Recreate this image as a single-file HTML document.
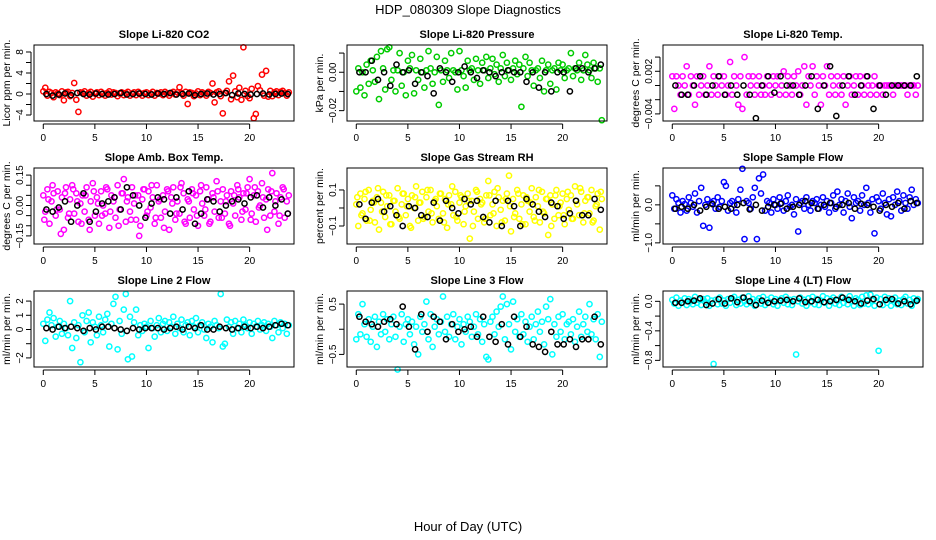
<!DOCTYPE html>
<html><head><meta charset="utf-8"><style>
html,body{margin:0;padding:0;background:#fff;}
svg{display:block;font-family:"Liberation Sans",sans-serif;}
</style></head><body>
<svg id="chart" width="936" height="540" xmlns="http://www.w3.org/2000/svg">
<rect x="0" y="0" width="936" height="540" fill="#fff"/>
<text x="468" y="14" text-anchor="middle" font-size="13">HDP_080309  Slope Diagnostics</text>
<text x="468" y="531" text-anchor="middle" font-size="13">Hour of Day (UTC)</text>
</svg>
<script>
const hours=[0,0.2,0.4,0.6,0.8,1,1.2,1.4,1.6,1.8,2,2.2,2.4,2.6,2.8,3,3.2,3.4,3.6,3.8,4,4.2,4.4,4.6,4.8,5,5.2,5.4,5.6,5.8,6,6.2,6.4,6.6,6.8,7,7.2,7.4,7.6,7.8,8,8.2,8.4,8.6,8.8,9,9.2,9.4,9.6,9.8,10,10.2,10.4,10.6,10.8,11,11.2,11.4,11.6,11.8,12,12.2,12.4,12.6,12.8,13,13.2,13.4,13.6,13.8,14,14.2,14.4,14.6,14.8,15,15.2,15.4,15.6,15.8,16,16.2,16.4,16.6,16.8,17,17.2,17.4,17.6,17.8,18,18.2,18.4,18.6,18.8,19,19.2,19.4,19.6,19.8,20,20.2,20.4,20.6,20.8,21,21.2,21.4,21.6,21.8,22,22.2,22.4,22.6,22.8,23,23.2,23.4,23.6,23.8];
const hoursK=[0.3,0.9,1.5,2.1,2.7,3.3,3.9,4.5,5.1,5.7,6.3,6.9,7.5,8.1,8.7,9.3,9.9,10.5,11.1,11.7,12.3,12.9,13.5,14.1,14.7,15.3,15.9,16.5,17.1,17.7,18.3,18.9,19.5,20.1,20.7,21.3,21.9,22.5,23.1,23.7];
const xTicks=[0,5,10,15,20];

const co2=[0.5,1.2,-0.3,0.4,0.2,-0.6,0.3,0.1,-0.2,0.5,-1.2,0.3,0.4,-0.4,0.2,2.1,-1.1,-3.4,0.3,0.2,0.5,-0.3,0.2,0.4,-0.5,0.1,0.3,-0.2,0.4,0.1,-0.3,0.2,0.5,-0.1,0.3,0.2,-0.4,0.1,0.3,-0.2,0.2,0.4,-0.3,0.1,0.3,-0.2,0.4,0.1,-0.3,0.2,0.3,-0.2,0.1,0.4,-0.3,0.2,0.1,0.3,-0.2,0.4,0.1,-0.3,0.2,0.4,-0.1,0.3,1.3,0.2,-0.3,0.4,-1.9,0.3,0.2,-0.4,0.1,0.5,-0.2,0.3,0.1,-0.3,0.4,0.2,2.0,-1.6,0.3,0.5,-0.4,-3.7,0.2,0.6,2.4,-1.0,3.5,0.5,-0.6,1.2,-1.1,8.9,0.6,-0.4,-0.8,1.0,-4.6,-3.8,1.5,0.7,3.7,-0.3,4.4,-0.5,0.6,-0.4,0.3,0.5,-0.2,0.4,0.6,0.2,-0.3,0.3];
const co2K=[0.0,-0.3,-0.1,0.1,-0.2,0.2,0.0,-0.1,0.1,0.0,-0.1,0.0,0.2,-0.1,0.0,0.1,0.0,-0.1,0.1,0.0,0.2,-0.1,0.0,0.1,-0.2,0.0,0.1,-0.1,0.0,0.2,-0.2,0.1,0.0,-0.1,0.0,0.1,-0.1,0.0,0.1,0.0];

const pres=[-0.010,0.002,-0.008,0.000,-0.012,0.004,-0.006,0.006,0.001,-0.005,0.008,-0.014,0.011,0.002,-0.009,0.012,0.013,-0.004,0.001,-0.010,0.001,0.010,-0.007,0.000,-0.012,0.006,0.002,0.009,-0.011,0.001,-0.004,0.007,0.000,-0.008,0.001,0.011,0.002,-0.006,0.000,0.008,-0.017,0.001,-0.005,0.006,0.001,-0.003,0.010,0.001,0.000,-0.009,0.011,0.001,-0.002,-0.008,0.006,0.001,0.002,-0.004,0.007,0.001,-0.006,0.005,0.001,0.008,-0.003,0.002,0.007,-0.001,0.004,-0.005,0.002,0.009,-0.002,0.005,0.001,-0.004,0.002,0.006,-0.001,0.004,-0.018,0.002,0.008,-0.002,0.005,0.001,-0.007,0.001,0.002,-0.003,0.006,-0.010,0.001,0.004,-0.006,0.001,0.002,-0.009,0.005,0.001,0.004,-0.003,0.001,0.002,0.010,-0.002,0.002,0.001,0.005,-0.004,0.001,0.009,0.004,0.001,-0.003,0.005,0.002,-0.005,0.002,-0.025];
const presK=[0.000,0.000,0.006,-0.004,0.000,-0.007,0.004,0.000,0.001,-0.006,0.000,-0.002,-0.011,0.002,0.000,-0.005,0.000,0.003,0.000,-0.003,0.001,0.000,-0.002,0.000,0.001,0.000,0.000,-0.005,0.000,-0.008,0.000,-0.010,0.000,0.000,-0.010,0.002,0.002,0.000,0.002,0.004];

const ltemp=[0.0013,-0.0033,0.0013,0,-0.0013,0.0013,0,0.0027,-0.0013,0.0013,0,-0.0027,0.0013,-0.0013,0,0.0013,-0.0013,0,0.0027,-0.0013,0.0013,0,-0.0013,0.0013,0,0.0013,-0.0013,0,0.0033,-0.0013,0.0013,0,-0.0027,0.0013,-0.0033,0.0040,-0.0013,0.0013,0,0.0013,-0.0013,0,0.0013,-0.0013,0,-0.0013,0.0013,0,-0.0013,0.0013,0,0.0013,-0.0013,0,0.0020,-0.0013,0.0013,0,-0.0013,0.0013,0,0.0020,-0.0013,0,0.0027,-0.0027,0.0013,0,0.0027,-0.0013,0.0013,0,-0.0027,0.0013,0,0.0027,-0.0013,0.0013,0,-0.0013,0.0013,0,-0.0013,0.0013,-0.0027,0,0.0013,-0.0013,0,0.0013,-0.0013,0.0013,0,-0.0013,0.0013,0,-0.0013,0,0.0013,-0.0013,0,0,-0.0013,0,0,0,0,-0.0013,0,0,0,0,0,0,-0.0013,0,0,0,-0.0013,0];
const ltempK=[0,-0.0013,-0.0013,0,0.0013,-0.0013,0,0.0013,-0.0013,0,-0.0013,0,-0.0013,-0.0046,0,0.0013,-0.0010,0.0013,0,0,-0.0013,0,0.0013,-0.0033,0,0.0027,-0.0043,0,0.0013,-0.0013,0,0.0013,-0.0033,0,-0.0013,0,0,0,0,0.0013];

const amb=[0.05,-0.03,0.08,-0.09,0.02,0.06,-0.05,0.07,-0.02,0.04,-0.12,0.09,-0.06,0.03,0.10,-0.04,0.06,-0.08,0.01,0.05,-0.03,0.09,-0.07,0.02,0.11,-0.05,0.04,-0.09,0.07,0.00,-0.04,0.08,-0.11,0.05,0.02,-0.06,0.10,-0.02,0.06,0.13,-0.08,0.04,-0.03,0.09,0.01,-0.07,0.05,-0.10,0.03,0.08,-0.05,0.07,-0.01,0.04,-0.09,0.10,0.02,-0.06,0.05,-0.03,0.08,-0.12,0.04,0.09,-0.07,0.02,-0.04,0.11,0.06,-0.09,0.03,-0.06,0.08,-0.02,0.05,-0.10,0.07,0.01,-0.05,0.09,0.03,-0.08,0.06,-0.03,0.12,-0.06,0.02,0.08,-0.04,0.05,-0.09,0.07,0.01,-0.05,0.10,0.04,-0.07,0.06,-0.02,0.09,0.13,-0.04,0.05,-0.08,0.07,0.00,0.11,-0.06,0.03,0.08,-0.05,0.16,-0.03,0.06,-0.09,0.04,0.09,-0.06,0.02,0.05];
const amb2=[-0.07,0.03,0.10,-0.02,-0.14,0.06,-0.04,0.08,0.02,-0.09,0.05,-0.12,0.07,0.01,-0.05,0.09,-0.03,0.04,-0.10,0.06,0.02,-0.07,0.05,-0.15,0.08,-0.03,0.10,-0.06,0.03,-0.11,0.07,0.01,-0.04,0.09,-0.08,0.02,0.06,-0.05,0.10,-0.02,-0.09,0.04,0.07,-0.06,0.02,-0.10,0.05,0.08,-0.03,0.06,-0.07,0.09,-0.01,0.04,-0.12,0.07,0.02,-0.05,0.08,-0.04];
const ambK=[-0.02,-0.03,-0.01,0.02,-0.08,0.00,0.06,-0.08,-0.03,0.01,0.02,0.04,-0.02,0.09,0.05,0.00,-0.06,0.01,0.04,0.03,-0.04,0.04,-0.02,0.07,-0.09,-0.04,0.03,0.02,-0.03,0.00,0.02,0.03,0.01,0.04,0.05,-0.01,0.04,0.00,0.03,-0.04];

const rh=[0.02,-0.10,0.08,-0.03,0.05,-0.07,0.10,-0.01,0.04,-0.08,0.06,-0.12,0.03,0.09,-0.05,0.01,0.07,-0.09,0.04,-0.02,0.11,-0.06,0.02,0.08,-0.04,0.05,-0.10,0.07,0.00,0.12,-0.07,0.03,0.09,-0.05,0.06,-0.02,0.10,-0.08,0.04,0.01,-0.06,0.08,-0.03,0.05,-0.11,0.07,0.02,-0.04,0.09,-0.07,0.03,0.06,-0.09,0.01,0.08,-0.17,0.04,-0.02,0.10,-0.06,0.05,0.03,-0.08,0.07,0.15,-0.04,0.02,0.09,-0.10,0.06,-0.01,0.04,-0.07,0.08,0.18,-0.13,0.05,-0.03,0.10,-0.06,0.02,0.07,-0.09,0.04,-0.02,0.11,-0.05,0.06,0.01,-0.08,0.09,-0.03,0.05,-0.15,0.07,0.02,-0.06,0.10,-0.04,0.03,0.08,-0.09,0.05,-0.01,0.07,-0.06,0.12,0.02,-0.04,0.09,-0.08,0.04,0.06,-0.03,0.10,-0.07,0.01,0.08,-0.12,0.05];
const rh2=[0.06,-0.04,0.09,-0.07,0.03,0.11,-0.02,0.07,-0.09,0.04,-0.05,0.08,0.01,-0.11,0.06,0.03,-0.06,0.10,-0.03,0.05,0.08,-0.08,0.02,0.12,-0.05,0.07,-0.02,0.04,-0.10,0.09,0.02,-0.06,0.07,-0.03,0.11,-0.08,0.05,0.01,-0.05,0.08,-0.09,0.06,0.03,-0.07,0.10,-0.02,0.05,-0.10,0.07,0.01,-0.04,0.09,-0.06,0.04,0.11,-0.03,0.06,-0.08,0.02,0.09];
const rhK=[0.02,-0.06,0.03,0.05,-0.02,0.01,-0.04,-0.10,0.01,0.00,-0.04,-0.05,0.03,-0.07,0.04,0.00,-0.03,0.05,0.02,0.04,-0.05,-0.08,0.04,-0.10,0.04,0.01,-0.10,0.05,0.02,-0.02,-0.05,0.03,0.01,-0.06,-0.03,0.04,-0.04,-0.04,0.05,-0.01];

const sflow=[0.25,-0.10,0.15,0.05,-0.20,0.10,0.02,-0.15,0.20,0.05,-0.05,0.30,-0.20,0.10,0.45,-0.55,0.00,0.15,-0.60,0.05,0.10,-0.10,0.20,-0.05,0.10,0.60,0.50,-0.15,0.05,0.10,0.00,-0.20,0.15,0.40,0.95,-0.90,0.10,0.05,-0.10,0.20,0.45,-0.90,0.70,0.30,0.80,-0.15,0.10,0.05,-0.20,0.15,0.00,-0.10,0.20,0.05,-0.15,0.10,0.25,-0.05,0.00,-0.25,0.15,-0.70,0.05,0.10,-0.10,0.20,0.00,-0.15,0.10,0.05,0.15,-0.10,0.00,0.20,-0.05,0.10,-0.20,0.05,0.25,-0.10,0.35,0.00,0.15,-0.20,0.10,0.30,-0.05,-0.35,0.20,0.05,0.10,-0.15,0.25,0.00,0.45,0.05,-0.20,0.15,-0.75,0.20,0.10,-0.10,0.30,0.05,-0.25,0.15,-0.30,0.20,0.00,0.35,0.10,-0.15,0.25,0.05,-0.10,0.20,0.40,0.00,0.15,0.05];
const sflowK=[-0.10,-0.05,-0.10,0.00,-0.15,-0.05,0.02,-0.10,-0.05,-0.10,0.00,0.05,-0.12,0.00,-0.15,-0.05,0.00,0.03,-0.10,-0.05,0.00,0.10,0.05,-0.10,0.00,0.05,-0.05,0.00,0.05,-0.10,0.03,0.00,-0.05,-0.15,0.00,-0.05,0.05,-0.10,0.10,0.05];

const l2=[0.4,-0.8,0.7,1.2,0.3,0.8,-0.5,0.2,0.6,-0.3,0.4,0.1,-0.4,2.0,-1.3,0.5,-0.6,0.3,-2.3,1.0,-0.2,0.6,1.2,-0.9,0.5,0.2,-0.4,0.9,0.3,-0.2,0.7,1.1,-1.2,0.4,1.8,2.3,-1.4,0.6,-0.3,1.4,2.5,-2.1,0.9,-1.9,0.5,1.4,-0.4,0.3,-0.1,0.4,0.2,-1.3,0.6,0.1,-0.5,0.3,0.8,-0.2,0.4,0.6,-0.1,0.5,0.2,0.9,-0.3,0.4,0.1,0.7,-0.2,0.3,0.5,-0.4,0.6,0.2,0.8,-0.2,0.3,0.5,0.0,-0.6,0.4,0.2,-0.9,0.6,0.3,0.1,2.5,-1.2,-1.0,0.7,0.2,0.5,-0.3,0.6,0.1,0.4,-0.2,0.7,0.3,0.1,0.5,-0.3,0.4,0.2,0.6,0.0,0.3,0.5,-0.1,0.4,0.2,-0.6,0.6,0.3,-0.2,0.5,0.1,0.4,-0.3,0.3];
const l2K=[0.1,0.0,0.2,0.1,0.2,0.1,-0.1,0.1,0.0,0.2,0.2,0.1,0.0,-0.1,0.1,0.0,0.1,0.1,0.1,0.0,0.1,0.2,0.0,0.2,0.1,0.3,0.0,0.0,0.2,0.1,0.0,0.1,0.2,0.1,0.2,0.1,0.2,0.3,0.4,0.3];

const l3=[-0.20,0.30,-0.10,0.50,0.10,-0.15,0.20,-0.25,0.05,0.25,-0.35,0.15,-0.10,0.30,-0.05,0.20,-0.20,0.10,0.25,-0.15,-0.80,0.05,0.30,-0.25,0.10,0.20,-0.10,0.15,-0.30,0.05,-0.50,0.25,-0.05,0.10,0.55,-0.20,0.30,-0.35,0.05,0.20,-0.10,0.15,0.65,-0.05,0.25,-0.15,0.10,0.30,-0.20,0.05,0.20,-0.30,0.10,-0.05,0.25,0.15,-0.15,0.05,0.30,-0.10,0.20,-0.25,0.10,-0.55,-0.60,0.15,0.25,-0.10,0.35,0.05,0.45,0.65,-0.20,0.50,0.10,-0.40,0.55,-0.05,0.20,-0.15,0.30,-0.10,0.15,-0.25,0.05,0.25,-0.20,0.10,0.35,-0.05,0.15,-0.30,0.45,0.20,0.60,-0.50,0.10,-0.15,0.25,-0.05,0.30,-0.20,0.10,0.15,-0.10,0.20,-0.25,0.05,0.35,-0.15,0.10,0.25,-0.05,0.50,-0.10,0.20,-0.20,0.30,-0.55,0.15];
const l3K=[0.25,0.15,0.10,0.05,0.15,0.20,0.10,0.45,0.05,-0.40,0.30,-0.05,0.25,0.15,-0.20,0.10,-0.05,0.00,0.05,-0.15,0.25,-0.15,-0.25,0.10,-0.30,0.25,-0.15,0.05,-0.30,-0.35,-0.45,-0.05,-0.30,-0.30,-0.20,-0.35,-0.20,-0.20,0.25,-0.30];

const l4=[0.02,-0.03,0.05,-0.06,0.01,-0.02,0.04,-0.05,0.03,0.00,-0.04,0.06,-0.02,0.02,-0.05,0.03,-0.01,0.04,-0.06,0.01,-0.85,0.02,-0.04,0.05,-0.03,0.01,-0.06,0.03,-0.02,0.04,0.06,-0.05,0.02,-0.03,0.05,0.00,-0.04,0.07,-0.02,0.03,-0.06,0.01,0.04,-0.03,0.06,-0.05,0.02,-0.01,0.05,-0.04,0.03,-0.06,0.01,0.04,-0.02,0.06,-0.04,0.02,-0.05,0.03,-0.72,0.00,0.05,-0.03,0.02,-0.06,0.04,-0.01,0.06,-0.04,0.03,-0.05,0.01,0.07,-0.02,0.04,-0.06,0.02,0.05,-0.03,0.01,-0.05,0.06,-0.02,0.03,-0.04,0.07,0.00,-0.06,0.04,0.02,-0.05,0.06,-0.03,0.08,-0.04,0.09,0.01,-0.06,0.05,-0.67,0.03,-0.05,0.06,-0.02,0.04,-0.06,0.02,0.05,-0.04,0.01,-0.05,0.03,0.06,-0.03,0.02,-0.06,0.04,0.00,0.03];
const l4K=[-0.02,-0.02,0.00,0.01,0.04,-0.05,-0.03,0.03,-0.03,0.04,-0.01,0.05,0.00,-0.05,0.01,-0.02,0.00,0.01,0.02,0.00,0.04,-0.01,0.00,0.02,-0.01,0.00,0.02,0.05,0.02,0.00,-0.03,0.01,0.03,-0.04,0.02,0.03,-0.03,0.00,-0.04,0.01];

const panels=[
 {name:'co2',title:'Slope Li-820 CO2',ylab:'Licor ppm per min.',col:'#ff0000',c:0,r:0,ymin:-5.14,ymax:9.33,ticks:[-4,-2,0,2,4,6,8],labels:['-4','0','4','8'],lv:[-4,0,4,8],s:[co2],k:co2K},
 {name:'pressure',title:'Slope Li-820 Pressure',ylab:'kPa per min.',col:'#00cc00',c:1,r:0,ymin:-0.0254,ymax:0.0142,ticks:[-0.02,-0.01,0,0.01],labels:['-0.02','0.00'],lv:[-0.02,0],s:[pres],k:presK},
 {name:'li820-temp',title:'Slope Li-820 Temp.',ylab:'degrees C per min.',col:'#ff00ff',c:2,r:0,ymin:-0.0050,ymax:0.0057,ticks:[-0.004,-0.002,0,0.002,0.004],labels:['-0.004','0.002'],lv:[-0.004,0.002],s:[ltemp],k:ltempK},
 {name:'amb-box-temp',title:'Slope Amb. Box Temp.',ylab:'degrees C per min.',col:'#ff00ff',c:0,r:1,ymin:-0.19,ymax:0.185,ticks:[-0.15,-0.1,-0.05,0,0.05,0.1,0.15],labels:['-0.15','0.00','0.15'],lv:[-0.15,0,0.15],s:[amb,amb2],k:ambK},
 {name:'gas-stream-rh',title:'Slope Gas Stream RH',ylab:'percent per min.',col:'#ffff00',c:1,r:1,ymin:-0.20,ymax:0.222,ticks:[-0.1,0,0.1],labels:['-0.1','0.1'],lv:[-0.1,0.1],s:[rh,rh2],k:rhK},
 {name:'sample-flow',title:'Slope Sample Flow',ylab:'ml/min per min.',col:'#0000ff',c:2,r:1,ymin:-1.03,ymax:0.97,ticks:[-1,-0.5,0,0.5],labels:['-1.0','0.0'],lv:[-1,0],s:[sflow],k:sflowK},
 {name:'line2-flow',title:'Slope Line 2 Flow',ylab:'ml/min per min.',col:'#00ffff',c:0,r:2,ymin:-2.64,ymax:2.71,ticks:[-2,-1,0,1,2],labels:['-2','0','1','2'],lv:[-2,0,1,2],s:[l2],k:l2K},
 {name:'line3-flow',title:'Slope Line 3 Flow',ylab:'ml/min per min.',col:'#00ffff',c:1,r:2,ymin:-0.75,ymax:0.76,ticks:[-0.5,0,0.5],labels:['-0.5','0.5'],lv:[-0.5,0.5],s:[l3],k:l3K},
 {name:'line4-flow',title:'Slope Line 4 (LT) Flow',ylab:'ml/min per min.',col:'#00ffff',c:2,r:2,ymin:-0.89,ymax:0.14,ticks:[-0.8,-0.6,-0.4,-0.2,0],labels:['-0.8','-0.4','0.0'],lv:[-0.8,-0.4,0],s:[l4],k:l4K}
];

const NS='http://www.w3.org/2000/svg';
const svg=document.getElementById('chart');
function mk(tag,attrs,parent){const e=document.createElementNS(NS,tag);for(const a in attrs)e.setAttribute(a,attrs[a]);(parent||svg).appendChild(e);return e;}
const lefts=[34,347,663], tops=[45,168,291], W=260, H=76;
const XMIN=-0.9, XMAX=24.3;

panels.forEach(p=>{
  const L=lefts[p.c], T=tops[p.r];
  const xs=v=>L+(v-XMIN)/(XMAX-XMIN)*W;
  const ys=v=>T+H-(v-p.ymin)/(p.ymax-p.ymin)*H;
  const g=mk('g',{});
  
  
  const t=mk('text',{x:L+W/2,y:T-7,'text-anchor':'middle','font-size':'11','font-weight':'bold'},g);
  t.textContent=p.title;
  
  
  const yl=mk('text',{x:0,y:0,transform:`translate(${L-24},${T+H/2}) rotate(-90)`,'text-anchor':'middle','font-size':'10.5'},g);
  yl.textContent=p.ylab;
  
  
  const clip=mk('g',{},g);
  p.s.forEach(arr=>{
    const hx = arr.length===hours.length ? hours : hours.filter((h,i)=>i%2===0).map(h=>h+0.1);
    arr.forEach((v,i)=>{
      const c=mk('circle',{cx:xs(hx[i]).toFixed(1),cy:ys(v).toFixed(1),r:2.6,fill:'none',stroke:p.col,'stroke-width':1.5},clip);
      
      
    });
  });
  p.k.forEach((v,i)=>{
    const c=mk('circle',{cx:xs(hoursK[i]).toFixed(1),cy:ys(v).toFixed(1),r:2.6,fill:'none',stroke:'#000','stroke-width':1.5},clip);
    
    
  });
  const box=mk('rect',{x:L,y:T,width:W,height:H,fill:'none',stroke:'#000','stroke-width':1},g);
  
  
  const ax=mk('g',{},g);
  
  
  mk('line',{x1:xs(0),x2:xs(20),y1:T+H+3,y2:T+H+3,stroke:'#000'},ax);
  xTicks.forEach(v=>{
    mk('line',{x1:xs(v),x2:xs(v),y1:T+H+3,y2:T+H+8,stroke:'#000'},ax);
    const tl=mk('text',{x:xs(v),y:T+H+20,'text-anchor':'middle','font-size':'10'},ax);
    tl.textContent=v;
  });
  const ay=mk('g',{},g);
  
  
  const tk=p.ticks;
  mk('line',{x1:L-3,x2:L-3,y1:ys(tk[0]),y2:ys(tk[tk.length-1]),stroke:'#000'},ay);
  tk.forEach(v=>{mk('line',{x1:L-3,x2:L-8,y1:ys(v),y2:ys(v),stroke:'#000'},ay);});
  p.lv.forEach((v,i)=>{
    const tl=mk('text',{x:0,y:0,transform:`translate(${L-11},${ys(v)}) rotate(-90)`,'text-anchor':'middle','font-size':'10'},ay);
    tl.textContent=p.labels[i].replace('-','\u2212');
  });
});
</script>
</body></html>
